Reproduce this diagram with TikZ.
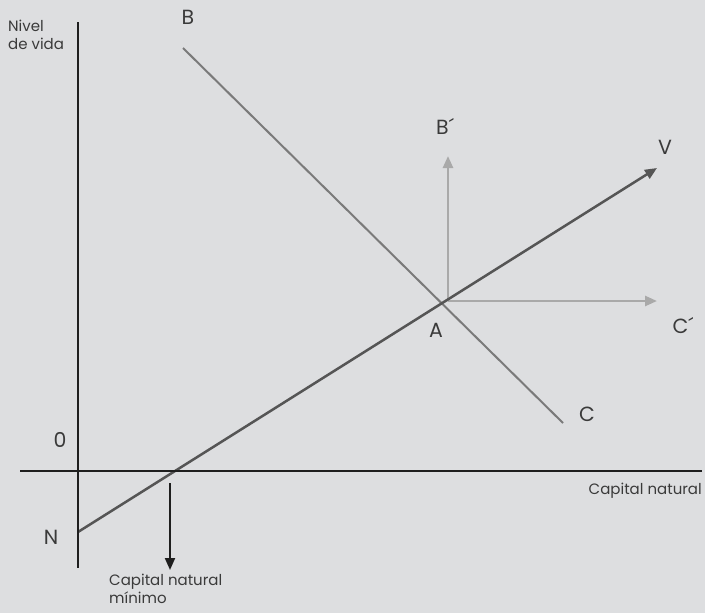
\documentclass[tikz,border=0pt]{standalone}
\usepackage{fontspec}
\setmainfont{Poppins}
\usetikzlibrary{arrows.meta}
\definecolor{bg}{HTML}{DDDEE0}
\definecolor{axis}{HTML}{1E1E1E}
\definecolor{vline}{HTML}{555555}
\definecolor{bcline}{HTML}{7A7A7A}
\definecolor{light}{HTML}{A9A9A9}
\definecolor{txt}{HTML}{3A3A3A}
\begin{document}
\begin{tikzpicture}[x=1pt,y=-1pt,
  lbl/.style={text=txt,font=\fontsize{15}{18}\selectfont,inner sep=0pt},
  big/.style={text=txt,font=\fontsize{20.5}{22}\selectfont,inner sep=0pt},
  tip/.style={-{Triangle[length=12pt,width=10pt]}}]
\fill[bg] (0,0) rectangle (705,613);
\useasboundingbox (0,0) rectangle (705,613);
% coordinates
\coordinate (ytop) at (78,22);
\coordinate (ybot) at (78,568);
\coordinate (xl) at (20,471);
\coordinate (xr) at (702,471);
\coordinate (N) at (78,532);
\coordinate (Vt) at (657,168);
\coordinate (A) at (448,301);
\coordinate (Bs) at (183,48);
\coordinate (Ce) at (563,423);
\coordinate (Bp) at (448,156);
\coordinate (Cp) at (657,301);
\coordinate (m1) at (170,483);
\coordinate (m2) at (170,570);
% lines
\draw[bcline,line width=2pt] (Bs) -- (Ce);
\draw[light,line width=2.5pt,tip] (A) -- (Bp);
\draw[light,line width=2.5pt,tip] (A) -- (Cp);
\draw[vline,line width=2.5pt,tip] (N) -- (Vt);
\draw[axis,line width=2.5pt] (ytop) -- (ybot);
\draw[axis,line width=2.5pt] (xl) -- (xr);
\draw[axis,line width=2pt,tip] (m1) -- (m2);
% labels
\node[lbl,anchor=north west,align=left] (nv) at (8,20) {Nivel\\de vida};
\node[big] (lB) at (188,17) {B};
\node[big] (lBp) at (445,126) {B´};
\node[big] (lV) at (665,147) {V};
\node[big] (lCp) at (683,326) {C´};
\node[big] (lA) at (436,330) {A};
\node[big] (lC) at (587,414) {C};
\node[big] (l0) at (60,440) {0};
\node[big] (lN) at (51,537) {N};
\node[lbl,anchor=east] (lcn) at (702,491) {Capital natural};
\node[lbl,anchor=north west,align=left] (lmin) at (109,574) {Capital natural\\mínimo};
\end{tikzpicture}
\end{document}
